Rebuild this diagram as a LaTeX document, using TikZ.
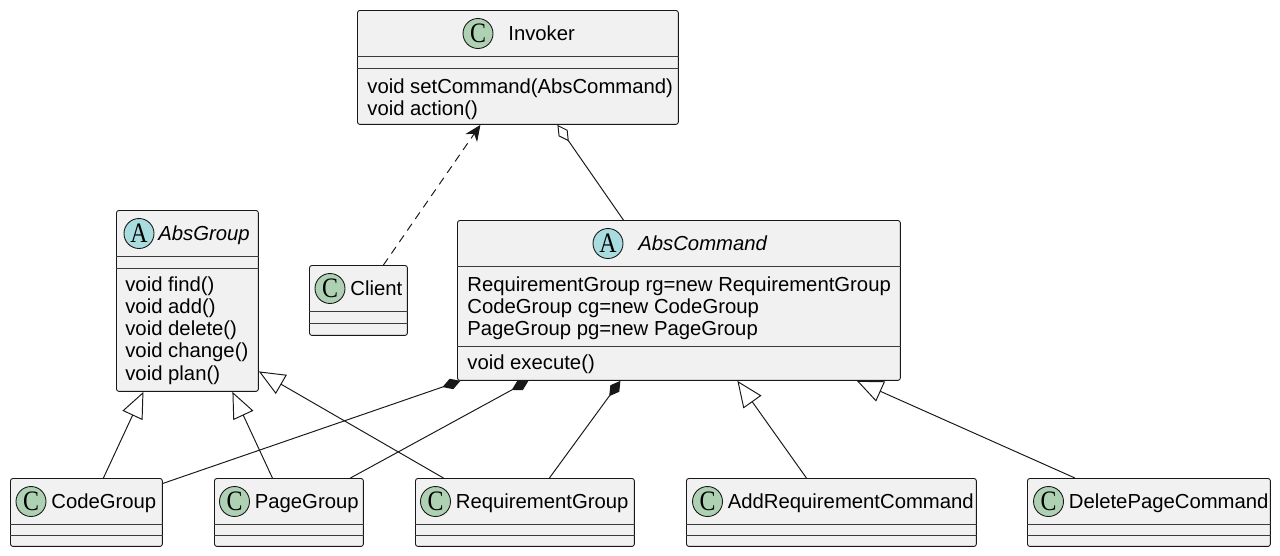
\documentclass[tikz,border=0pt]{standalone}
\usepackage{fontspec}
\setmainfont{Liberation Sans}
\newfontfamily\spotfont[FakeStretch=0.85]{Liberation Serif}
\usetikzlibrary{arrows.meta}
\definecolor{classfill}{HTML}{F1F1F1}
\definecolor{classline}{HTML}{181818}
\definecolor{spotclass}{HTML}{ADD1B2}
\definecolor{spotabstract}{HTML}{A9DCDF}
\tikzstyle{classbox}=[draw=classline,fill=classfill,line width=0.5pt,rounded corners=0.05cm,anchor=north west,inner sep=0pt]
\tikzstyle{spot}=[circle,draw=classline,line width=0.5pt,minimum size=0.6cm,inner sep=0pt,font=\spotfont\fontsize{16}{16}\selectfont]
\tikzstyle{classspot}=[spot,fill=spotclass]
\tikzstyle{abstractspot}=[spot,fill=spotabstract]
\tikzstyle{classname}=[anchor=base west,inner sep=0pt,font=\fontsize{11.55}{13.8}\selectfont]
\tikzstyle{abstractname}=[classname,font=\fontsize{11.55}{13.8}\selectfont\itshape]
\tikzstyle{member}=[anchor=base west,inner sep=0pt,font=\fontsize{11.55}{13.8}\selectfont]
\tikzstyle{compartment}=[draw=classline!85,line width=0.5pt]
\tikzstyle{relation}=[draw=classline,line width=0.55pt]
\tikzstyle{generalization}=[relation,-{Triangle[open,length=0.52cm,width=0.44cm]}]
\tikzstyle{composition}=[relation,-{Diamond[length=0.38cm,width=0.22cm]}]
\tikzstyle{aggregation}=[relation,{Diamond[open,length=0.4cm,width=0.22cm]}-]
\tikzstyle{dependency}=[relation,-{Stealth[length=0.32cm,width=0.28cm,inset=0.1cm]},dash pattern=on 0.16cm off 0.12cm]

\begin{document}
\begin{tikzpicture}[x=0.02cm,y=-0.02cm]
\fill[white] (0,0) rectangle (1280,555);

% class boxes
\node[classbox,minimum width=6.42cm,minimum height=2.28cm] (Invoker) at (357,10) {};
\node[classbox,minimum width=2.84cm,minimum height=3.62cm] (AbsGroup) at (116,210) {};
\node[classbox,minimum width=1.96cm,minimum height=1.4cm] (Client) at (309,265) {};
\node[classbox,minimum width=8.86cm,minimum height=3.2cm] (AbsCommand) at (457,220) {};
\node[classbox,minimum width=3.04cm,minimum height=1.36cm] (CodeGroup) at (10,478) {};
\node[classbox,minimum width=2.98cm,minimum height=1.36cm] (PageGroup) at (214,478) {};
\node[classbox,minimum width=4.38cm,minimum height=1.36cm] (RequirementGroup) at (415,478) {};
\node[classbox,minimum width=5.8cm,minimum height=1.36cm] (AddRequirementCommand) at (686,478) {};
\node[classbox,minimum width=4.86cm,minimum height=1.36cm] (DeletePageCommand) at (1027,478) {};

% compartments
\draw[compartment] ([yshift=-0.93cm]Invoker.north west) -- ([yshift=-0.93cm]Invoker.north east);
\draw[compartment] ([yshift=-1.16cm]Invoker.north west) -- ([yshift=-1.16cm]Invoker.north east);
\draw[compartment] ([yshift=-0.93cm]AbsGroup.north west) -- ([yshift=-0.93cm]AbsGroup.north east);
\draw[compartment] ([yshift=-1.16cm]AbsGroup.north west) -- ([yshift=-1.16cm]AbsGroup.north east);
\draw[compartment] ([yshift=-0.93cm]Client.north west) -- ([yshift=-0.93cm]Client.north east);
\draw[compartment] ([yshift=-1.16cm]Client.north west) -- ([yshift=-1.16cm]Client.north east);
\draw[compartment] ([yshift=-0.93cm]AbsCommand.north west) -- ([yshift=-0.93cm]AbsCommand.north east);
\draw[compartment] ([yshift=-2.52cm]AbsCommand.north west) -- ([yshift=-2.52cm]AbsCommand.north east);
\draw[compartment] ([yshift=-0.92cm]CodeGroup.north west) -- ([yshift=-0.92cm]CodeGroup.north east);
\draw[compartment] ([yshift=-1.14cm]CodeGroup.north west) -- ([yshift=-1.14cm]CodeGroup.north east);
\draw[compartment] ([yshift=-0.92cm]PageGroup.north west) -- ([yshift=-0.92cm]PageGroup.north east);
\draw[compartment] ([yshift=-1.14cm]PageGroup.north west) -- ([yshift=-1.14cm]PageGroup.north east);
\draw[compartment] ([yshift=-0.92cm]RequirementGroup.north west) -- ([yshift=-0.92cm]RequirementGroup.north east);
\draw[compartment] ([yshift=-1.14cm]RequirementGroup.north west) -- ([yshift=-1.14cm]RequirementGroup.north east);
\draw[compartment] ([yshift=-0.92cm]AddRequirementCommand.north west) -- ([yshift=-0.92cm]AddRequirementCommand.north east);
\draw[compartment] ([yshift=-1.14cm]AddRequirementCommand.north west) -- ([yshift=-1.14cm]AddRequirementCommand.north east);
\draw[compartment] ([yshift=-0.92cm]DeletePageCommand.north west) -- ([yshift=-0.92cm]DeletePageCommand.north east);
\draw[compartment] ([yshift=-1.14cm]DeletePageCommand.north west) -- ([yshift=-1.14cm]DeletePageCommand.north east);

% headers
\node[classspot] (InvokerSpot) at (478,33.5) {C};
\node[classname] (InvokerName) at (508,40) {Invoker};
\node[abstractspot] (AbsGroupSpot) at (139,233.5) {A};
\node[abstractname] (AbsGroupName) at (158,240) {AbsGroup};
\node[classspot] (ClientSpot) at (330,288.5) {C};
\node[classname] (ClientName) at (350,295) {Client};
\node[abstractspot] (AbsCommandSpot) at (608,243.5) {A};
\node[abstractname] (AbsCommandName) at (638,250) {AbsCommand};
\node[classspot] (CodeGroupSpot) at (31,501.5) {C};
\node[classname] (CodeGroupName) at (51,508) {CodeGroup};
\node[classspot] (PageGroupSpot) at (234.5,501.5) {C};
\node[classname] (PageGroupName) at (254.5,508) {PageGroup};
\node[classspot] (RequirementGroupSpot) at (435.5,501.5) {C};
\node[classname] (RequirementGroupName) at (455.5,508) {RequirementGroup};
\node[classspot] (AddRequirementCommandSpot) at (707.5,501.5) {C};
\node[classname] (AddRequirementCommandName) at (727.5,508) {AddRequirementCommand};
\node[classspot] (DeletePageCommandSpot) at (1048.5,501.5) {C};
\node[classname] (DeletePageCommandName) at (1068.5,508) {DeletePageCommand};

% members
\node[member] (InvokerM1) at (367,93) {void setCommand(AbsCommand)};
\node[member] (InvokerM2) at (367,115) {void action()};
\node[member] (AbsGroupM1) at (125,291) {void find()};
\node[member] (AbsGroupM2) at (125,313.3) {void add()};
\node[member] (AbsGroupM3) at (125,335.6) {void delete()};
\node[member] (AbsGroupM4) at (125,357.9) {void change()};
\node[member] (AbsGroupM5) at (125,380.2) {void plan()};
\node[member] (AbsCommandF1) at (467,291) {RequirementGroup rg=new RequirementGroup};
\node[member] (AbsCommandF2) at (467,313.3) {CodeGroup cg=new CodeGroup};
\node[member] (AbsCommandF3) at (467,335.6) {PageGroup pg=new PageGroup};
\node[member] (AbsCommandM1) at (467,369) {void execute()};

% relations
\draw[dependency] ([xshift=0.5cm]Client.north) -- ([xshift=-0.75cm]Invoker.south);
\draw[aggregation] ([xshift=0.79cm]Invoker.south) -- ([xshift=-1.11cm]AbsCommand.north);

\draw[generalization] ([xshift=0.34cm]CodeGroup.north) -- ([xshift=-0.88cm]AbsGroup.south);
\draw[generalization] ([xshift=-0.33cm]PageGroup.north) -- ([xshift=0.9cm]AbsGroup.south);
\draw[generalization] ([xshift=-1.63cm]RequirementGroup.north) -- ([yshift=-1.41cm]AbsGroup.east);

\draw[composition] ([yshift=0.58cm]CodeGroup.east) -- ([xshift=-4.37cm]AbsCommand.south);
\draw[composition] ([xshift=1.23cm]PageGroup.north) -- ([xshift=-3.01cm]AbsCommand.south);
\draw[composition] ([xshift=0.49cm]RequirementGroup.north) -- ([xshift=-1.17cm]AbsCommand.south);

\draw[generalization] ([xshift=-0.5cm]AddRequirementCommand.north) -- ([xshift=1.17cm]AbsCommand.south);
\draw[generalization] ([xshift=-1.48cm]DeletePageCommand.north) -- ([xshift=3.56cm]AbsCommand.south);

\end{tikzpicture}
\end{document}
